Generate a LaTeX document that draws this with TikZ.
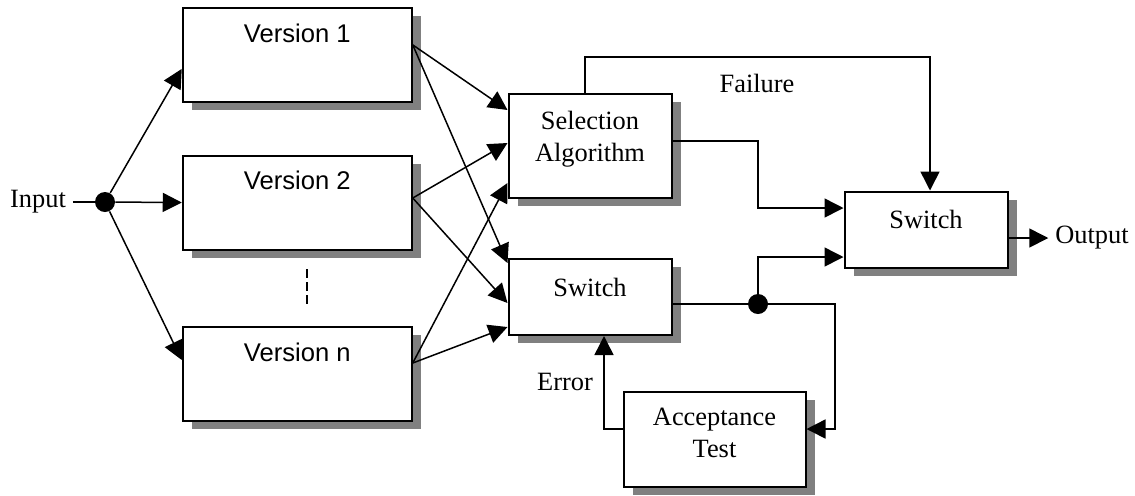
\documentclass[tikz,border=0pt]{standalone}
\usepackage{fontspec}
\setmainfont{Liberation Serif}
\newfontfamily\arialfont{Liberation Sans}
\usetikzlibrary{arrows.meta,shadows,positioning}

\tikzset{
  block/.style={draw, line width=1pt, fill=white,
    general shadow={fill=gray, shadow xshift=4.5pt, shadow yshift=-4pt}},
  verbox/.style={block, minimum width=114.5pt, minimum height=47pt},
  selbox/.style={block, minimum width=81.5pt, minimum height=52pt},
  swbox/.style={block, minimum width=81.5pt, minimum height=38pt},
  accbox/.style={block, minimum width=91pt, minimum height=47.5pt},
  vertext/.style={font=\arialfont\fontsize{12.8}{15}\selectfont, yshift=11pt},
  blocktext/.style={align=center, yshift=#1},
  blocktext/.default=5pt,
  dot/.style={circle, fill, inner sep=0pt, minimum size=10pt},
  conn/.style={line width=0.75pt},
  arr/.style={conn, -{Triangle[length=9.5pt,width=9.5pt]}}
}

\begin{document}
\begin{tikzpicture}[x=0.5pt, y=-0.5pt, font=\fontsize{13.2}{16}\selectfont]
  \useasboundingbox (0,0) rectangle (1135,495);

  % the n versions
  \node[verbox, label={[vertext]center:Version 1}] (v1) at (297.25,54.9) {};
  \node[verbox, label={[vertext]center:Version 2}] (v2) at (297.25,202.5) {};
  \node[verbox, label={[vertext]center:Version n}] (vn) at (297.25,374) {};
  \draw[conn, dash pattern=on 4.5pt off 2pt]
    ([xshift=4.9pt,yshift=-9.25pt]v2.south) -- ([xshift=4.9pt,yshift=10.75pt]vn.north);

  % deciders
  \node[selbox, label={[blocktext=3.25pt]center:Selection\\Algorithm}] (sel) at (590,145.5) {};
  \node[swbox, label={[blocktext]center:Switch}] (sw1) at (590,297) {};
  \node[swbox, label={[blocktext]center:Switch}] (sw2) at (926,229.5) {};
  \node[accbox, label={[blocktext=3.25pt]center:Acceptance\\Test}] (acc) at (714.5,439) {};

  % input fan-out
  \node (inp) at (38,202) {Input};
  \node[dot] (fork) at (105,202) {};
  \draw[conn] (inp) -- (fork);
  \draw[arr] (fork) -- ([yshift=-7pt]v1.west);
  \draw[arr] (fork) -- (v2.west);
  \draw[arr] (fork) -- ([yshift=7pt]vn.west);

  % versions to deciders
  \draw[arr] ([yshift=5pt]v1.east) -- ([yshift=17.75pt]sel.west);
  \draw[arr] ([yshift=5pt]v1.east) -- ([yshift=17pt]sw1.west);
  \draw[arr] ([yshift=2.25pt]v2.east) -- ([yshift=1.25pt]sel.west);
  \draw[arr] ([yshift=2.25pt]v2.east) -- ([yshift=-3pt]sw1.west);
  \draw[arr] ([yshift=5.5pt]vn.east) -- ([yshift=-18.75pt]sel.west);
  \draw[arr] ([yshift=5.5pt]vn.east) -- ([yshift=-15pt]sw1.west);

  % failure path
  \coordinate (failL) at (585,57);
  \coordinate (failR) at (930,57);
  \draw[arr] (failL |- sel.north) -- (failL) -- (failR) -- (failR |- sw2.north);
  \node at (757,83) {Failure};

  % outputs of the deciders
  \node[dot] (jn) at (758,304) {};
  \coordinate (sw2a) at ([yshift=10.75pt]sw2.west);
  \coordinate (sw2b) at ([yshift=-13.75pt]sw2.west);
  \coordinate (tap) at (835,304);
  \draw[arr] ([yshift=2.25pt]sel.east) -| (jn |- sw2a) -- (sw2a);
  \draw[conn] (jn -| sw1.east) -- (jn);
  \draw[arr] (jn) |- (sw2b);
  \draw[arr] (jn) -- (tap) |- ([yshift=5pt]acc.east);
  \draw[arr] ([yshift=5pt]acc.west) -| ([xshift=7pt]sw1.south);
  \node at (565,382) {Error};

  % output
  \node (out) at (1092,238) {Output};
  \draw[arr] (out.west -| sw2.east) -- (out.west);
\end{tikzpicture}
\end{document}
